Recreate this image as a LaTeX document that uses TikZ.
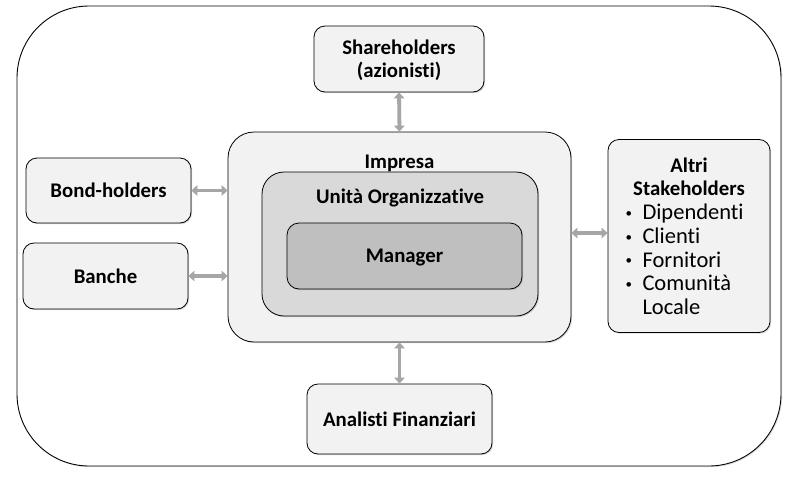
\documentclass[tikz,border=0pt]{standalone}
\usepackage{fontspec}
\setmainfont{Carlito}[Ligatures=CommonOff]
\usetikzlibrary{arrows.meta,shadows}
\definecolor{boxfill}{HTML}{F2F2F2}
\definecolor{unitfill}{HTML}{D9D9D9}
\definecolor{mgrfill}{HTML}{BFBFBF}
\definecolor{arrowgray}{HTML}{A6A6A6}
\newcommand{\smallbul}{\makebox[18.5pt][l]{\hspace{1.5pt}\raisebox{2.2pt}{\fontsize{13}{13}\selectfont\textbullet}}}
\tikzset{
  bfont/.style={font=\fontsize{20.8}{23}\selectfont\bfseries},
  sbox/.style={draw=black, line width=0.8pt, fill=boxfill, rounded corners=11pt,
    inner sep=0pt, align=center, bfont, text depth=0pt,
    drop shadow={opacity=0.3, shadow xshift=1.2pt, shadow yshift=-1.2pt}},
  link/.style={draw=arrowgray, line width=3.8pt,
    {Triangle[length=6pt,width=10.5pt]}-{Triangle[length=6pt,width=10.5pt]}},
}
\begin{document}
\begin{tikzpicture}[x=1pt,y=-1pt]
\useasboundingbox (0,0) rectangle (798,477);
% outer frame
\node[draw=black, line width=0.9pt, rounded corners=72pt, minimum width=764pt, minimum height=460pt,
  inner sep=0pt, drop shadow={opacity=0.25, shadow xshift=1.2pt, shadow yshift=-1.2pt}, fill=white] (frame) at (399,236) {};
% Impresa
\node[sbox, rounded corners=26pt, minimum width=343pt, minimum height=210pt,
  label={[anchor=base, yshift=-36.5pt, bfont]north:Impresa}] (imp) at (399.5,237) {};
\node[sbox, fill=unitfill, rounded corners=22pt, minimum width=276pt, minimum height=144pt,
  label={[anchor=base, yshift=-31.5pt, bfont]north:Unità Organizzative}] (unit) at (400,244) {};
\node[sbox, fill=mgrfill, rounded corners=12pt, minimum width=235pt, minimum height=66pt] (mgr) at (404.5,256) {Manager};
% outer boxes
\node[sbox, minimum width=170pt, minimum height=66pt] (sh) at (399,59) {Shareholders\\(azionisti)};
\node[sbox, minimum width=185pt, minimum height=70pt] (an) at (399.5,419) {Analisti Finanziari};
\node[sbox, minimum width=165pt, minimum height=65pt] (bond) at (108.5,190.5) {Bond-holders};
\node[sbox, minimum width=165pt, minimum height=66pt] (ban) at (105.5,276) {Banche};
\node[sbox, minimum width=162pt, minimum height=193pt, font=\fontsize{22.5}{23.7}\selectfont] (alt) at (689,236)
  {{\fontsize{20.8}{23}\selectfont\bfseries Altri}\\{\fontsize{20.8}{23}\selectfont\bfseries Stakeholders}\\
   \makebox[130pt][l]{\smallbul Dipendenti}\\
   \makebox[130pt][l]{\smallbul Clienti}\\
   \makebox[130pt][l]{\smallbul Fornitori}\\
   \makebox[130pt][l]{\smallbul Comunità}\\
   \makebox[130pt][l]{\hspace{18.5pt}Locale}};
% connectors
\draw[link] (sh.south) -- (imp.north);
\draw[link] (an.north) -- (imp.south);
\draw[link] (bond.east) -- (bond.east -| imp.west);
\draw[link] (ban.east) -- (ban.east -| imp.west);
\draw[link] (alt.west |- 0,233) -- (imp.east |- 0,233);
\end{tikzpicture}
\end{document}
